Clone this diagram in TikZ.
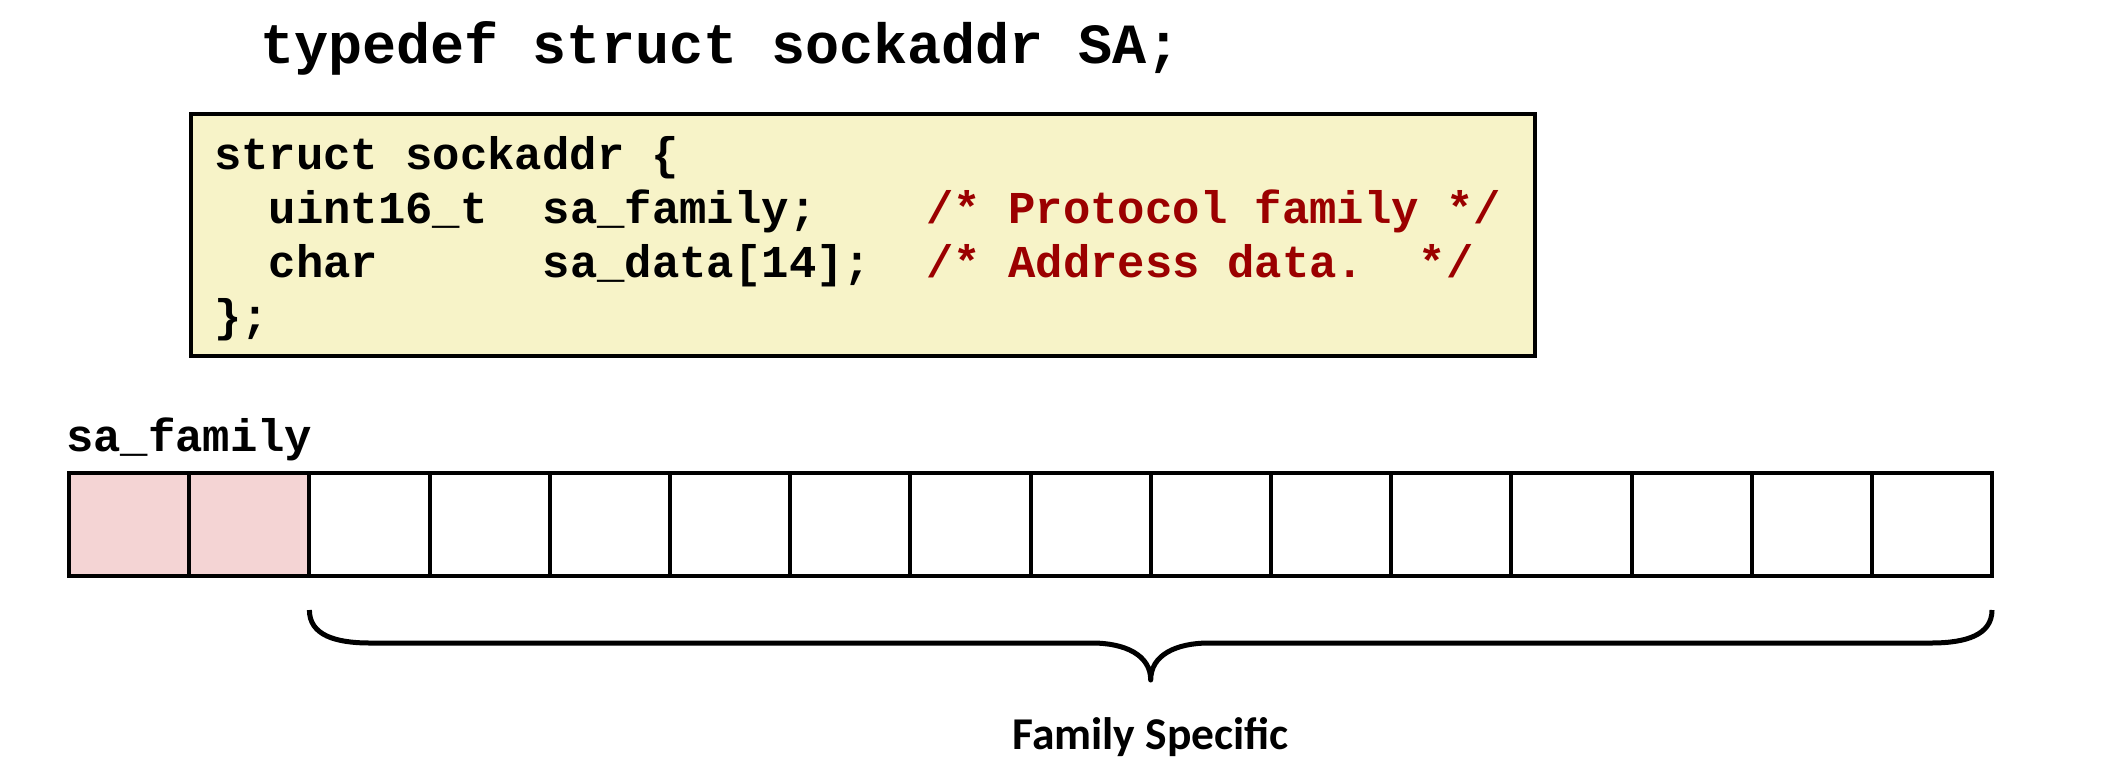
\documentclass[tikz,border=0pt]{standalone}
\usepackage{fontspec}
\newfontfamily\codefont{Liberation Mono}
\newfontfamily\labelfont{Carlito}
\definecolor{boxyellow}{RGB}{247,243,200}
\definecolor{commentred}{RGB}{155,0,0}
\definecolor{cellpink}{RGB}{244,212,212}
\begin{document}
\begin{tikzpicture}[x=1pt,y=-1pt,
  codetext/.style={font=\codefont\bfseries\frenchspacing\fontsize{45.6}{54}\selectfont, anchor=base west, inner sep=0pt, outer sep=0pt},
  commenttext/.style={codetext, text=commentred},
  titletext/.style={font=\codefont\bfseries\fontsize{56.8}{64}\selectfont, anchor=base west, inner sep=0pt},
  structbox/.style={draw=black, line width=3.6pt, fill=boxyellow, minimum width=1344pt, minimum height=242pt, anchor=north west, inner sep=0pt, outer sep=0pt},
  bytecell/.style={draw=black, line width=4pt, minimum width=120.2pt, minimum height=103pt, anchor=north west, inner sep=0pt, outer sep=0pt},
  famcell/.style={bytecell, fill=cellpink},
  bracepath/.style={draw=black, line width=5pt, line join=round},
  bracelabel/.style={font=\labelfont\bfseries\fontsize{45.5}{54}\selectfont, anchor=base, inner sep=0pt}
]
\useasboundingbox (0,0) rectangle (2123,780);

% title
\node[titletext] (title) at (260,63) {typedef struct sockaddr SA;};

% struct box
\node[structbox] (box) at (191,114) {};
\node[codetext] (l1) at (214,169) {struct sockaddr \{};
\node[codetext] (l2a) at (268.8,223) {uint16\_t};
\node[codetext] (l2b) at (542.8,223) {sa\_family;};
\node[commenttext] (l2c) at (926.4,223) {/* Protocol family */};
\node[codetext] (l3a) at (268.8,277) {char};
\node[codetext] (l3b) at (542.8,277) {sa\_data[14];};
\node[commenttext] (l3c) at (926.4,277) {/* Address data.\ \ */};
\node[codetext] (l4) at (214,331) {\};};

% sa_family label
\node[codetext] (salabel) at (66,451) {sa\_family};

% cells
\foreach \i in {1,...,16} {
  \pgfmathsetmacro{\xx}{69+(\i-1)*120.2}
  \ifnum\i<3
    \node[famcell] (c\i) at (\xx,472.5) {};
  \else
    \node[bytecell] (c\i) at (\xx,472.5) {};
  \fi
}

% brace
\coordinate (bl) at (309.4,610);
\coordinate (br) at (1992,610);
\coordinate (tip) at (1150.7,680);
\path[bracepath] (bl) .. controls (309.4,635) and (335,643) .. (370,643)
  -- (1092,643) .. controls (1125,643) and (1150.7,655) .. (tip)
  .. controls (1150.7,655) and (1176,643) .. (1209,643)
  -- (1931,643) .. controls (1966,643) and (1992,635) .. (br);

\node[bracelabel] (fam) at (1150.7,749) {Family Specific};
\end{tikzpicture}
\end{document}
